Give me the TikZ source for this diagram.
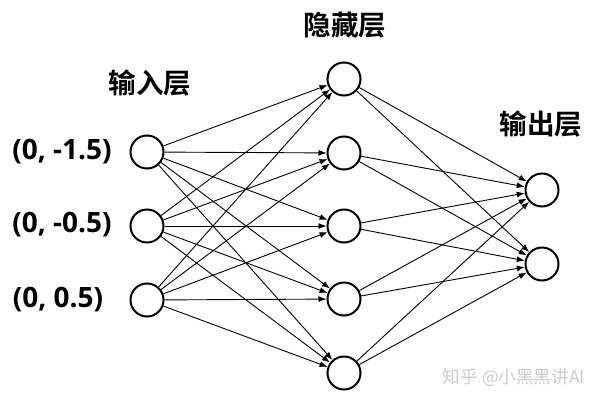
\documentclass[tikz,border=0pt]{standalone}
\usepackage{fontspec}
\setmainfont{Open Sans}
\newfontfamily\cjkbold{Noto Sans CJK SC Bold}
\newfontfamily\cjk{Noto Sans CJK SC}
\usetikzlibrary{arrows.meta,positioning}

\begin{document}
\begin{tikzpicture}[x=0.5pt, y=-0.5pt]
  \tikzset{
    neuron/.style={circle, draw=black, fill=white, line width=1pt, minimum size=16.5pt, inner sep=0pt},
    link/.style={-{Latex[length=4pt, width=3pt]}, line width=0.45pt, black},
    layername/.style={font=\cjkbold\fontsize{13.8}{15}\selectfont},
    coordlab/.style={font=\bfseries\fontsize{14}{16}\selectfont},
    mark text/.style={font=\cjk\fontsize{8.8}{10}\selectfont, text=black!20}
  }
  \useasboundingbox (0,0) rectangle (600,402);

  % neurons
  \foreach \i/\y in {1/152,2/226,3/300}
    \node[neuron] (in\i) at (147,\y) {};
  \foreach \i/\y in {1/79,2/153,3/226,4/299,5/373}
    \node[neuron] (hid\i) at (344,\y) {};
  \foreach \i/\y in {1/190,2/264}
    \node[neuron] (out\i) at (542,\y) {};

  % connections
  \foreach \i in {1,2,3}
    \foreach \j in {1,...,5}
      \draw[link] (in\i) -- (hid\j);
  \foreach \j in {1,...,5}
    \foreach \k in {1,2}
      \draw[link] (hid\j) -- (out\k);

  % labels
  \node[layername] (tin) at (150,83) {输入层};
  \node[layername] (thid) at (345,25) {隐藏层};
  \node[layername] (tout) at (541,124) {输出层};

  \node[coordlab] (l1) at (62,152) {(0, -1.5)};
  \node[coordlab] (l2) at (62,225) {(0, -0.5)};
  \node[coordlab] (l3) at (58,300) {(0, 0.5)};

  \node[mark text] (wm) at (514,378) {知乎 @小黑黑讲AI};
\end{tikzpicture}
\end{document}
